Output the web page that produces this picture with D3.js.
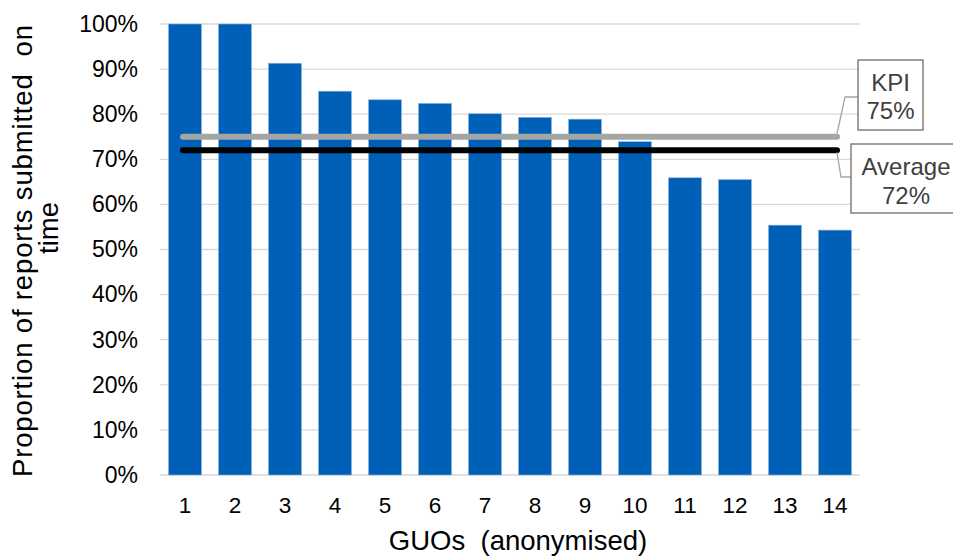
<!DOCTYPE html>
<html><head><meta charset="utf-8">
<script src="https://cdn.jsdelivr.net/npm/d3@7"></script>
<style>body{margin:0;background:#fff}svg{display:block;font-family:"Liberation Sans",Arial,sans-serif}</style>
</head><body>
<svg id="c" width="953" height="560"></svg>
<script>
const categories = ["1","2","3","4","5","6","7","8","9","10","11","12","13","14"];
const values = [100,100,91.3,85.1,83.2,82.4,80.1,79.3,78.9,73.9,65.9,65.5,55.4,54.3];
const yTicks = [0,10,20,30,40,50,60,70,80,90,100];
const kpi = 75;
const average = 72;
const kpiLabel = ["KPI","75%"];
const avgLabel = ["Average","72%"];
const xTitle = "GUOs  (anonymised)";
const yTitle = ["Proportion of reports submitted  on","time"];

const svg = d3.select("#c");
const x = d3.scaleBand().domain(categories).range([160,860]).paddingInner(0.34).paddingOuter(0.17);
const y = d3.scaleLinear().domain([0,100]).range([475,24]);

// gridlines
svg.append("g").selectAll("line").data(yTicks).join("line")
  .attr("x1",160).attr("x2",860).attr("y1",d=>y(d)).attr("y2",d=>y(d))
  .attr("stroke","#D9D9D9").attr("stroke-width",1.3);

// bars
svg.append("g").selectAll("rect").data(values).join("rect")
  .attr("x",(d,i)=>x(categories[i])).attr("width",x.bandwidth())
  .attr("y",d=>y(d)).attr("height",d=>y(0)-y(d))
  .attr("fill","#0060B8").attr("stroke","#8DB4E2").attr("stroke-width",0.6);

// y axis labels
const yAxis = d3.axisLeft(y).tickValues(yTicks).tickFormat(d=>d+"%").tickSize(0).tickPadding(0);
const gy = svg.append("g").attr("transform","translate(138,0)").call(yAxis);
gy.select(".domain").remove();
gy.selectAll("text").attr("font-size",23).attr("fill","#000").attr("font-family","Liberation Sans, Arial, sans-serif");

// x axis labels
const xAxis = d3.axisBottom(x).tickSize(0).tickPadding(0);
const gx = svg.append("g").attr("transform","translate(0,497)").call(xAxis);
gx.select(".domain").remove();
gx.selectAll("text").attr("font-size",22.5).attr("fill","#000").attr("font-family","Liberation Sans, Arial, sans-serif");

// KPI and average lines
const cx = c => x(c)+x.bandwidth()/2;
const x0 = cx(categories[0])-2, x1 = cx(categories[categories.length-1])+2;
svg.append("line").attr("x1",x0).attr("x2",x1).attr("y1",y(kpi)).attr("y2",y(kpi))
  .attr("stroke","#A5A5A5").attr("stroke-width",6).attr("stroke-linecap","round");
svg.append("line").attr("x1",x0).attr("x2",x1).attr("y1",y(average)).attr("y2",y(average))
  .attr("stroke","#000").attr("stroke-width",6).attr("stroke-linecap","round");

// leader lines
svg.append("polyline").attr("points",[[x1,y(kpi)-3],[845,97],[858,97]].join(" "))
  .attr("fill","none").attr("stroke","#A5A5A5").attr("stroke-width",1.3);
svg.append("polyline").attr("points",[[x1,y(average)+2],[841,177],[851,177]].join(" "))
  .attr("fill","none").attr("stroke","#A5A5A5").attr("stroke-width",1.3);

// label boxes
function box(x0,y0,w,h,lines,ys){
  svg.append("rect").attr("x",x0).attr("y",y0).attr("width",w).attr("height",h)
    .attr("fill","#fff").attr("stroke","#766A62").attr("stroke-width",1.3);
  lines.forEach((t,i)=>svg.append("text").attr("x",x0+w/2).attr("y",ys[i])
    .attr("text-anchor","middle").attr("font-size",24).attr("fill","#404040").text(t));
}
box(858,60,65,70,kpiLabel,[91,119]);
box(851,144,110,69,avgLabel,[175,204]);

// axis titles
svg.append("text").attr("x",518).attr("y",550).attr("text-anchor","middle")
  .attr("font-size",27.5).attr("fill","#000").style("white-space","pre").text(xTitle);
svg.append("text").attr("transform","translate(32,251) rotate(-90)").attr("text-anchor","middle")
  .attr("font-size",27.5).attr("fill","#000").style("white-space","pre")
  .attr("textLength",452).attr("lengthAdjust","spacing").text(yTitle[0]);
svg.append("text").attr("transform","translate(58,228) rotate(-90)").attr("text-anchor","middle")
  .attr("font-size",27.5).attr("fill","#000").text(yTitle[1]);
</script>
</body></html>
